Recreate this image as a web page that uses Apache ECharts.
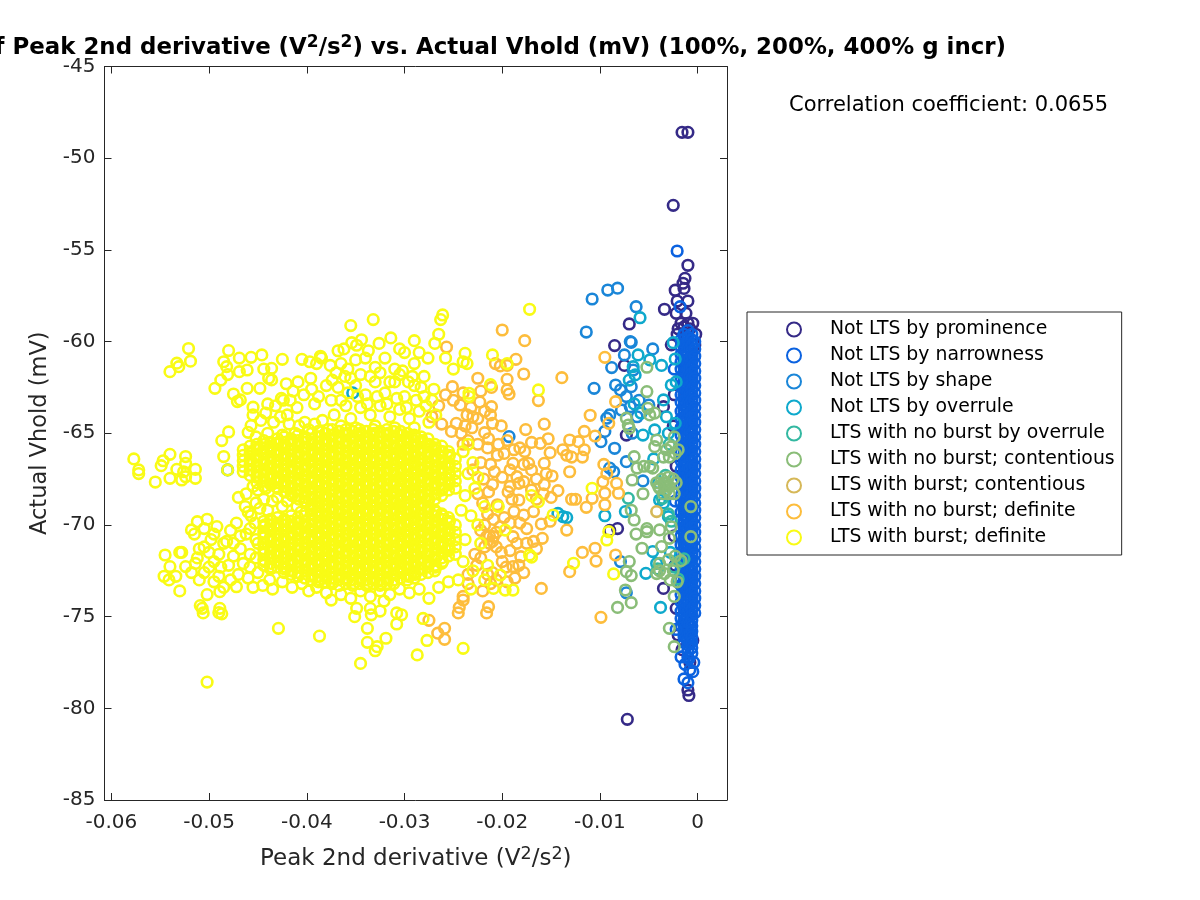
<!DOCTYPE html>
<html><head><meta charset="utf-8">
<style>html,body{margin:0;padding:0;background:#fff}#c{width:1200px;height:900px}</style>
<script src="https://cdn.jsdelivr.net/npm/echarts@6/dist/echarts.min.js"></script>
</head><body><div id="c"></div>
<script>
const chartTitle = 'of Peak 2nd derivative (V{sup|2}/s{sup|2}) vs. Actual Vhold (mV) (100%, 200%, 400% g incr)';
const correlationText = 'Correlation coefficient: 0.0655';
const xAxisTitle = 'Peak 2nd derivative (V{sup|2}/s{sup|2})';
const yAxisTitle = 'Actual Vhold (mV)';
const xTicks = [-0.06,-0.05,-0.04,-0.03,-0.02,-0.01,0];
const seriesNames = ['Not LTS by prominence','Not LTS by narrowness','Not LTS by shape','Not LTS by overrule','LTS with no burst by overrule','LTS with no burst; contentious','LTS with burst; contentious','LTS with no burst; definite','LTS with burst; definite'];
const seriesColors = ['#352a87','#0b62e0','#1a86d8','#0ea9cc','#33b8a1','#8abd78','#d6b858','#fdbd3c','#f9fb15'];

const prominence = [[-.0016,-48.59],[-.0010,-48.59],[-.0025,-52.57],[-.0010,-55.84],[-.0013,-56.55],[-.0015,-56.82],[-.0014,-57.1],[-.0023,-57.2],[-.0021,-57.79],[-.0010,-57.79],[-.0034,-58.24],[-.0070,-59.04],[-.0012,-58.46],[-.0022,-58.46],[-.0017,-59],[-.0010,-59],[-.0005,-59],[-.0020,-59.3],[-.0014,-59.2],[-.0008,-59.3],[-.0002,-59.6],[-.0021,-59.6],[-.0003,-60.2],[-.0027,-60.18],[-.0085,-60.22],[-.0075,-61.3],[-.0035,-63.55],[-.0073,-65.1],[-.0082,-70.2],[-.0090,-70.3],[-.0035,-73.46],[-.0020,-76],[-.0005,-76.3],[-.0022,-74.55],[-.0072,-80.6],[-.0010,-79],[-.0009,-79.3],[-.0016,-76.8],[-.0008,-77.5],[-.0012,-75.9],[-.0024,-62.9],[-.0025,-64.6],[-.0022,-66.8],[-.0024,-70.6],[-.0023,-72.2]];
const narrownessColumns = [
[-.0017,[-59.9,-60.3,-60.7,-61.1,-61.5,-62,-62.4,-62.9,-63.3,-63.8,-64.2,-64.7,-65.1,-65.6,-66,-66.5,-67,-67.4,-67.9,-68.4,-68.8,-69.3,-69.7,-70.2,-70.6,-71.1,-71.5,-72,-72.4,-72.9,-73.3,-73.8,-74.2,-74.7,-75.1,-75.5]],
[-.0014,[-59.6,-59.9,-60.2,-60.5,-60.8,-61.1,-61.4,-61.7,-62,-62.3,-62.6,-62.9,-63.2,-63.5,-63.8,-64.1,-64.4,-64.7,-65,-65.3,-65.6,-65.9,-66.2,-66.5,-66.8,-67.1,-67.4,-67.7,-68,-68.3,-68.6,-68.9,-69.2,-69.5,-69.8,-70.1,-70.4,-70.7,-71,-71.3,-71.6,-71.9,-72.2,-72.5,-72.8,-73.1,-73.4,-73.7,-74,-74.3,-74.6,-74.9,-75.2,-75.5,-75.8,-76.1,-76.4]],
[-.0012,[-60.1,-60.6,-61.1,-61.6,-62.1,-62.6,-63.1,-63.6,-64.1,-64.6,-65.1,-65.6,-66.1,-66.6,-67.1,-67.6,-68.1,-68.6,-69.1,-69.6,-70.1,-70.6,-71.1,-71.6,-72.1,-72.6,-73.1,-73.6,-74.1,-74.6,-75.1,-75.6,-76.1]],
[-.0010,[-59.4,-59.75,-60.05,-60.35,-60.65,-60.95,-61.25,-61.55,-61.85,-62.15,-62.45,-62.75,-63.05,-63.35,-63.65,-63.95,-64.25,-64.55,-64.85,-65.15,-65.45,-65.75,-66.05,-66.35,-66.65,-66.95,-67.25,-67.55,-67.85,-68.15,-68.45,-68.75,-69.05,-69.35,-69.65,-69.95,-70.25,-70.55,-70.85,-71.15,-71.45,-71.75,-72.05,-72.35,-72.65,-72.95,-73.25,-73.55,-73.85,-74.15,-74.45,-74.75,-75.05,-75.35,-75.65,-75.95,-76.25,-76.55,-76.85,-77.2]],
[-.0008,[-60.4,-60.9,-61.4,-61.9,-62.4,-62.9,-63.4,-63.9,-64.4,-64.9,-65.4,-65.9,-66.4,-66.9,-67.4,-67.9,-68.4,-68.9,-69.4,-69.9,-70.4,-70.9,-71.4,-71.9,-72.4,-72.9,-73.4,-73.9,-74.4,-74.9,-75.4,-75.9,-76.4]],
[-.0006,[-59.6,-59.9,-60.2,-60.5,-60.8,-61.1,-61.4,-61.7,-62,-62.3,-62.6,-62.9,-63.2,-63.5,-63.8,-64.1,-64.4,-64.7,-65,-65.3,-65.6,-65.9,-66.2,-66.5,-66.8,-67.1,-67.4,-67.7,-68,-68.3,-68.6,-68.9,-69.2,-69.5,-69.8,-70.1,-70.4,-70.7,-71,-71.3,-71.6,-71.9,-72.2,-72.5,-72.8,-73.1,-73.4,-73.7,-74,-74.3,-74.6,-74.9,-75.2,-75.5,-75.8,-76.1,-76.4,-76.7,-77]],
[-.0003,[-60,-60.4,-60.8,-61.2,-61.6,-62,-62.4,-62.8,-63.2,-63.6,-64,-64.4,-64.8,-65.2,-65.6,-66,-66.4,-66.8,-67.2,-67.6,-68,-68.4,-68.8,-69.2,-69.6,-70,-70.4,-70.8,-71.2,-71.6,-72,-72.4,-72.8,-73.2,-73.6,-74,-74.4,-74.8]]
];
const narrownessOutliers = [[-.0021,-55.06],[-.0018,-58.1],[-.0013,-77.6],[-.0008,-77.9],[-.0005,-78],[-.0014,-78.4],[-.0010,-78.6],[-.0004,-77.5],[-.0017,-77.2],[-.0009,-77.3],[-.0022,-75.7],[-.0024,-61.5],[-.0023,-68.7]];
const shape = [[-.0108,-57.68],[-.0092,-57.19],[-.0082,-57.09],[-.0063,-58.1],[-.0114,-59.48],[-.0068,-60.04],[-.0069,-60],[-.0046,-60.4],[-.0088,-61.42],[-.0106,-62.55],[-.0084,-62.37],[-.0075,-60.73],[-.0068,-62.46],[-.0079,-62.64],[-.0073,-63],[-.0069,-63.55],[-.0078,-63.73],[-.0085,-65.82],[-.0099,-65.46],[-.0095,-64.9],[-.0090,-64],[-.0093,-64.18],[-.0193,-65.18],[-.0073,-66.55],[-.0086,-67.1],[-.0090,-66.9],[-.0050,-63.46],[-.0066,-61.55],[-.0062,-64.1],[-.0060,-63.2],[-.0079,-72],[-.0073,-73.7],[-.0056,-67.6],[-.0067,-65]];
const overrule = [[-.0059,-58.7],[-.0025,-60.06],[-.0061,-60.73],[-.0049,-61],[-.0037,-61.3],[-.0066,-61.37],[-.0064,-61.82],[-.0027,-62.37],[-.0022,-62.2],[-.0035,-63.18],[-.0032,-64.1],[-.0023,-64.46],[-.0056,-65.1],[-.0044,-64.82],[-.0030,-65],[-.0023,-60.95],[-.0095,-69.5],[-.0134,-69.6],[-.0138,-69.55],[-.0143,-69.37],[-.0074,-69.27],[-.0038,-74.5],[-.0053,-72.64],[-.0046,-71.45],[-.0039,-68.64],[-.0035,-68.8],[-.0030,-69.55],[-.0481,-67],[-.0353,-62.8],[-.0065,-63.4],[-.0058,-63.9],[-.0040,-67.7],[-.0045,-66.4],[-.0042,-72.1],[-.0028,-71.5],[-.0070,-62.1]];
const noBurstOverrule = [[-.0071,-68.55],[-.0020,-72.95],[-.0019,-72],[-.0014,-71.85],[-.0024,-72.3],[-.0036,-68.55],[-.0030,-69.4],[-.0027,-69.8],[-.0033,-67.3],[-.0029,-65.6],[-.0041,-72.4]];
const contentious = [[-.0052,-61.4],[-.0052,-62.73],[-.0044,-63.9],[-.0051,-63.64],[-.0049,-64],[-.0073,-64.18],[-.0071,-64.55],[-.0070,-64.73],[-.0042,-65.37],[-.0044,-65.73],[-.0065,-66.28],[-.0062,-66.9],[-.0067,-67.55],[-.0055,-66.8],[-.0049,-66.8],[-.0046,-66.9],[-.0056,-68.3],[-.0032,-65.9],[-.0027,-65.73],[-.0023,-66.1],[-.0020,-65.9],[-.0029,-66.3],[-.0035,-66.3],[-.0039,-68],[-.0035,-67.7],[-.0032,-68.1],[-.0029,-67.9],[-.0035,-68.3],[-.0025,-67.5],[-.0042,-67.7],[-.0029,-68.3],[-.0037,-67.5],[-.0032,-67.7],[-.0022,-67.7],[-.0024,-68.3],[-.0034,-67.9],[-.0030,-67.4],[-.0040,-67.9],[-.0068,-69.2],[-.0065,-69.73],[-.0052,-70.2],[-.0052,-70.37],[-.0063,-70.5],[-.0057,-71.27],[-.0039,-70.27],[-.0037,-71.18],[-.0027,-70.1],[-.0029,-70.73],[-.0007,-69],[-.0007,-70.64],[-.0070,-72],[-.0073,-72.55],[-.0068,-72.76],[-.0074,-73.55],[-.0068,-74.24],[-.0082,-74.5],[-.0029,-75.64],[-.0024,-76.64],[-.0024,-73.9],[-.0039,-72.5],[-.0034,-72.65],[-.0030,-71.9],[-.0023,-71.7],[-.0025,-72.5],[-.0021,-73.1],[-.0028,-73],[-.0042,-72.65],[-.0039,-72.1],[-.0017,-71.95],[-.0024,-65.2]];
const burstContentious = [[-.0042,-69.27]];
const noBurstDefinite = [[-.0200,-59.37],[-.0177,-59.95],[-.0186,-60.97],[-.0195,-61.3],[-.0202,-61.33],[-.0207,-61.2],[-.0195,-62.06],[-.0193,-62.86],[-.0195,-62.64],[-.0178,-61.77],[-.0139,-61.97],[-.0163,-63.22],[-.0225,-62],[-.0211,-62.5],[-.0251,-62.46],[-.0257,-60.3],[-.0201,-64.6],[-.0176,-64.8],[-.0157,-64.5],[-.0110,-64.02],[-.0231,-64.7],[-.0218,-64.97],[-.0210,-64.46],[-.0212,-64],[-.0211,-63.55],[-.0223,-63.3],[-.0236,-64],[-.0243,-63.46],[-.0250,-63.2],[-.0247,-64.46],[-.0153,-65.3],[-.0161,-65.55],[-.0170,-65.5],[-.0182,-65.8],[-.0177,-66],[-.0151,-66.06],[-.0157,-66.64],[-.0173,-66.64],[-.0131,-65.37],[-.0122,-65.46],[-.0116,-64.9],[-.0105,-65.15],[-.0138,-65.9],[-.0134,-66.2],[-.0129,-66.3],[-.0118,-66.3],[-.0116,-65.9],[-.0131,-67.1],[-.0149,-67.33],[-.0157,-67.8],[-.0143,-68.13],[-.0150,-68.5],[-.0189,-66.64],[-.0192,-67],[-.0185,-67.37],[-.0178,-67.64],[-.0183,-67.73],[-.0183,-68.64],[-.0188,-69.27],[-.0178,-69.46],[-.0182,-69.9],[-.0189,-70.64],[-.0168,-69.27],[-.0129,-68.6],[-.0125,-68.6],[-.0108,-68.55],[-.0114,-69.04],[-.0095,-68.27],[-.0095,-68.9],[-.0097,-67.64],[-.0083,-67.73],[-.0081,-68.27],[-.0093,-67.2],[-.0096,-66.7],[-.0134,-70.28],[-.0159,-70.73],[-.0168,-70.9],[-.0160,-69.95],[-.0151,-69.8],[-.0181,-71.73],[-.0118,-71.5],[-.0105,-71.27],[-.0104,-71.97],[-.0084,-71.64],[-.0131,-72.55],[-.0189,-72.27],[-.0187,-72.9],[-.0160,-73.46],[-.0209,-70.64],[-.0213,-71],[-.0216,-70.64],[-.0206,-71.2],[-.0240,-73.9],[-.0244,-74.5],[-.0214,-74.46],[-.0216,-74.8],[-.0099,-75.04],[-.0259,-75.64],[-.0259,-76.24],[-.0266,-75.9],[-.0095,-60.86],[-.0084,-63.28],[-.0091,-64.46],[-.0213,-70.6],[-.0210,-70.9],[-.0218,-71.2],[-.0222,-70.3],[-.0215,-65.8],[-.0225,-65.6],[-.0230,-67],[-.0222,-66.6],[-.0205,-66.2],[-.0200,-67.4],[-.0210,-67.8],[-.0225,-68.3],[-.0205,-68.9],[-.0215,-69.4],[-.0198,-69.6],[-.0202,-70.1],[-.0192,-71.4],[-.0200,-72],[-.0210,-72.6],[-.0226,-72.2],[-.0235,-73.2],[-.0220,-73.6],[-.0212,-73.2],[-.0195,-73.1],[-.0240,-62.8],[-.0232,-63.6],[-.0258,-62.9],[-.0265,-63.5],[-.0272,-64.1],[-.0262,-64.5],[-.0252,-64.9],[-.0242,-65],[-.0235,-65.4],[-.0222,-62.7],[-.0230,-64.1],[-.0245,-74.8],[-.0235,-72.7],[-.0228,-71.6],[-.0240,-74.1],[-.0275,-75.2],[-.0195,-65.4],[-.0188,-65.9],[-.0170,-68.1],[-.0165,-68.6],[-.0158,-68.3],[-.0175,-70.2],[-.0192,-69.9],[-.0185,-71],
[-.0212,-66.7],[-.0208,-67.1],[-.0219,-67.5],[-.0214,-68.2],[-.0220,-68.8],[-.0209,-69.7],[-.0218,-70],[-.0206,-70.4],[-.0204,-65.6],[-.0198,-66.1],[-.0194,-68.2],[-.0190,-68.6],[-.0201,-71.5],[-.0222,-71.8],[-.0215,-72.7],[-.0206,-73],[-.0196,-72.3],[-.0183,-72.2],[-.0192,-67.9],[-.0178,-66.7],[-.0170,-67],[-.0165,-67.5],[-.0155,-67.2],[-.0175,-71],[-.0165,-71.3],[-.0178,-72.6],[-.0225,-64.2],[-.0218,-63.8],[-.0238,-64.6],[-.0214,-65.3],[-.0240,-65.6]];
const burstDefiniteOutliers = [[-.0577,-66.4],[-.0572,-67],[-.0572,-67.2],[-.0555,-67.66],[-.0549,-66.77],[-.0547,-66.5],[-.0540,-66.15],[-.0540,-67.46],[-.0533,-66.97],[-.0528,-67.55],[-.0526,-67.1],[-.0524,-66.27],[-.0524,-66.64],[-.0524,-67.37],[-.0514,-66.97],[-.0514,-67.46],[-.0540,-61.64],[-.0533,-61.18],[-.0531,-61.37],[-.0521,-60.38],[-.0519,-61.07],[-.0494,-62.55],[-.0488,-62.1],[-.0480,-60.49],[-.0485,-61.1],[-.0482,-61.37],[-.0481,-61.8],[-.0469,-60.9],[-.0469,-61.64],[-.0461,-61.55],[-.0457,-60.86],[-.0446,-60.73],[-.0444,-61.5],[-.0436,-61.46],[-.0439,-62],[-.0436,-62.09],[-.0425,-60.97],[-.0461,-62.55],[-.0448,-62.55],[-.0475,-62.86],[-.0471,-63.27],[-.0468,-63.18],[-.0455,-63.58],[-.0480,-64.93],[-.0487,-65.4],[-.0485,-66.27],[-.0481,-67],[-.0457,-64.58],[-.0460,-64.95],[-.0502,-69.69],[-.0512,-69.82],[-.0518,-70.27],[-.0492,-70.09],[-.0472,-69.9],[-.0457,-69.5],[-.0453,-69.9],[-.0545,-71.64],[-.0530,-71.5],[-.0528,-71.5],[-.0540,-72.27],[-.0546,-72.8],[-.0541,-73],[-.0534,-72.8],[-.0524,-72.27],[-.0530,-73.6],[-.0514,-72.1],[-.0509,-74.4],[-.0506,-74.8],[-.0502,-73.8],[-.0507,-74.55],[-.0489,-74.55],[-.0487,-74.85],[-.0490,-74.78],[-.0489,-73.64],[-.0472,-73.37],[-.0502,-78.57],[-.0429,-75.64],[-.0387,-76.06],[-.0338,-75.64],[-.0338,-76.4],[-.0319,-76.18],[-.0328,-76.64],[-.0330,-76.86],[-.0345,-77.55],[-.0287,-77.09],[-.0277,-76.3],[-.0308,-75.4],[-.0308,-74.8],[-.0303,-74.9],[-.0281,-75.1],[-.0351,-75],[-.0349,-74.55],[-.0335,-74.55],[-.0334,-74.9],[-.0325,-74.7],[-.0321,-74.15],[-.0355,-59.13],[-.0332,-58.8],[-.0314,-59.8],[-.0290,-59.95],[-.0354,-60.06],[-.0344,-59.9],[-.0368,-60.5],[-.0386,-60.8],[-.0405,-60.97],[-.0397,-61.1],[-.0390,-61.2],[-.0421,-62.3],[-.0409,-62.2],[-.0396,-62],[-.0426,-63.1],[-.0417,-63.2],[-.0427,-64.1],
[-.0172,-58.24],[-.0163,-62.64],[-.0086,-72.67],[-.0127,-72.09],[-.0108,-68],[-.0093,-70.82],[-.0091,-70.37],[-.0163,-68.73],[-.0148,-69.46],[-.0172,-71.64],[-.0170,-71.75],[-.0189,-73.55],[-.0197,-73.55],[-.0209,-73.46],[-.0202,-72.73],[-.0204,-69],[-.0170,-68.4],[-.0197,-70.28],[-.0238,-60.64],[-.0236,-61.2],[-.0234,-62.82],[-.0210,-60.73],[-.0195,-61.2],[-.0261,-58.55],[-.0263,-58.8],[-.0265,-59.6],[-.0240,-76.73],[-.0269,-60.1],[-.0276,-60.9],[-.0258,-60.9],[-.0250,-61.5],[-.0240,-61.1],[-.0212,-62.35],[-.0234,-63],[-.0218,-73],[-.0232,-73.5],[-.0215,-72.2],
[-.0442,-63.9],[-.0434,-64.4],[-.0420,-64],[-.0410,-63.6],[-.0402,-64.4],[-.0392,-63.4],[-.0384,-64.3],[-.0375,-63.2],[-.0380,-62.4],[-.0368,-62.5],[-.0370,-61.7],[-.0358,-61.5],[-.0350,-61],[-.0345,-61.8],[-.0340,-60.9],[-.0330,-61.4],[-.0320,-60.9],[-.0310,-61.5],[-.0300,-60.6],[-.0290,-61.2],[-.0280,-61.9],[-.0270,-62.6],[-.0360,-63.5],[-.0350,-62.4],[-.0340,-62.9],[-.0330,-62.2],[-.0320,-62.8],[-.0310,-62.2],[-.0300,-63],[-.0290,-62.4],[-.0280,-63],[-.0355,-64.2],[-.0345,-63.6],[-.0335,-64],[-.0325,-63.5],[-.0315,-64.1],[-.0305,-63.7],[-.0295,-64.2],[-.0285,-63.8],[-.0275,-64.4],[-.0412,-65],[-.0398,-64.8],[-.0425,-65.1],[-.0440,-65],[-.0452,-65.2],[-.0378,-64.8],[-.0365,-64.6],[-.0350,-64.7],[-.0330,-64.6],[-.0310,-64.7],[-.0290,-64.7],[-.0385,-60.9],[-.0376,-61.3],[-.0362,-60.4],[-.0349,-60.2],[-.0337,-60.5],[-.0326,-60.1],[-.0305,-60.4],[-.0285,-60.6],[-.0365,-61.2],[-.0355,-62],[-.0305,-61.8],[-.0296,-62.2],
[-.0450,-68.1],[-.0444,-68.6],[-.0440,-69.2],[-.0448,-69.1],[-.0430,-68.5],[-.0425,-69],[-.0410,-69],[-.0395,-69.2],[-.0455,-67.9],[-.0462,-70.5],[-.0450,-71],[-.0458,-71.6],[-.0465,-72.1],[-.0475,-71],[-.0482,-70.9],[-.0490,-71.6],[-.0498,-70.8],[-.0505,-71.2],[-.0512,-71.8],[-.0500,-72.3],[-.0490,-72.8],[-.0480,-72.2],[-.0470,-72.7],[-.0460,-72.9],[-.0450,-72.6],[-.0510,-73],[-.0518,-72.6],[-.0455,-73.4],[-.0445,-73.3],[-.0438,-73],[-.0435,-73.5],[-.0425,-73.1],[-.0415,-73.4],[-.0405,-73.2],[-.0398,-73.6],[-.0390,-73.4],[-.0380,-73.7],[-.0375,-74.1],[-.0365,-73.8],[-.0355,-74],[-.0345,-73.6],[-.0335,-73.9],[-.0325,-73.6],[-.0315,-73.8],[-.0305,-73.5],[-.0295,-73.7],[-.0285,-73.5],[-.0275,-74],[-.0265,-73.4],[-.0255,-73.1],[-.0245,-73]];
const burstDefiniteExtra = [[-.0240,-66],[-.0235,-67.2],[-.0230,-66.6],[-.0238,-68.4],[-.0228,-68],[-.0232,-69.5],[-.0225,-70],[-.0238,-70.8],[-.0222,-71],[-.0240,-72],[-.0230,-72.5],[-.0218,-69],[-.0242,-69.2],[-.0235,-65.6],[-.0225,-67.4],[-.0515,-70.5],[-.0505,-70.2],[-.0495,-70.5],[-.0485,-71],[-.0478,-70.3],[-.0468,-70.6],[-.0458,-70.2],[-.0452,-70.8],[-.0510,-71.3],[-.0500,-71.5],[-.0495,-72],[-.0488,-72.3],[-.0475,-71.7],[-.0468,-71.3],[-.0458,-72.3],[-.0452,-71.8],[-.0505,-72.6],[-.0495,-73.1],[-.0478,-73],[-.0485,-73.4],[-.0455,-64],[-.0447,-64.3],[-.0440,-63.4],[-.0432,-63.5],[-.0424,-63.2],[-.0418,-64.5],[-.0408,-64.6],[-.0414,-62.7],[-.0403,-62.9],[-.0395,-62.6],[-.0388,-63],[-.0392,-64.5],[-.0372,-64],[-.0365,-63.2],[-.0358,-62.8],[-.0374,-62.1],[-.0361,-61.9],[-.0348,-63],[-.0338,-63.4],[-.0328,-63],[-.0318,-63.4],[-.0308,-63.1],[-.0298,-63.6],[-.0288,-63.2],[-.0278,-63.5],[-.0268,-64],[-.0335,-61.9],[-.0325,-61.7],[-.0315,-62.2],[-.0302,-61.6],[-.0292,-61.9],[-.0283,-62.5],[-.0272,-63.2],[-.0442,-68],[-.0435,-68.7],[-.0420,-68.7],[-.0406,-69.3],[-.0462,-68.3],[-.0452,-68.8],[-.0470,-68.5],[-.0463,-69],[-.0460,-69.3]];
const burstDefiniteDense = [
[-.0465,[-65.9,-66.2,-66.5,-66.8,-67.1]],
[-.0458,[-65.7,-66.1,-66.4,-66.7,-67,-67.3]],
[-.0451,[-65.6,-65.9,-66.2,-66.5,-66.8,-67.1,-67.4,-67.7]],
[-.0444,[-65.4,-65.8,-66.1,-66.4,-66.7,-67,-67.3,-67.6,-67.9,-69.8,-70.1,-70.4,-70.7,-71,-71.3,-71.6,-71.9,-72.2]],
[-.0437,[-65.5,-65.7,-66,-66.3,-66.6,-66.9,-67.2,-67.5,-67.8,-69.7,-70,-70.3,-70.6,-70.9,-71.2,-71.5,-71.8,-72.1,-72.4]],
[-.0430,[-65.3,-65.6,-65.9,-66.2,-66.5,-66.8,-67.1,-67.4,-67.7,-68,-69.6,-69.9,-70.2,-70.5,-70.8,-71.1,-71.4,-71.7,-72,-72.3]],
[-.0423,[-65.2,-65.5,-65.8,-66.1,-66.4,-66.7,-67,-67.3,-67.6,-67.9,-68.2,-69.7,-70,-70.3,-70.6,-70.9,-71.2,-71.5,-71.8,-72.1,-72.4,-72.6]],
[-.0416,[-65.3,-65.6,-65.9,-66.2,-66.5,-66.8,-67.1,-67.4,-67.7,-68,-68.3,-69.5,-69.8,-70.1,-70.4,-70.7,-71,-71.3,-71.6,-71.9,-72.2,-72.5,-72.7]],
[-.0409,[-65.1,-65.4,-65.7,-66,-66.3,-66.6,-66.9,-67.2,-67.5,-67.8,-68.1,-68.4,-69.6,-69.9,-70.2,-70.5,-70.8,-71.1,-71.4,-71.7,-72,-72.3,-72.6,-72.8]],
[-.0402,[-65.2,-65.5,-65.8,-66.1,-66.4,-66.7,-67,-67.3,-67.6,-67.9,-68.2,-68.5,-68.7,-69.5,-69.8,-70.1,-70.4,-70.7,-71,-71.3,-71.6,-71.9,-72.2,-72.5,-72.9]],
[-.0395,[-65,-65.3,-65.6,-65.9,-66.2,-66.5,-66.8,-67.1,-67.4,-67.7,-68,-68.3,-68.6,-68.9,-69.4,-69.7,-70,-70.3,-70.6,-70.9,-71.2,-71.5,-71.8,-72.1,-72.4,-72.7,-73]],
[-.0388,[-64.9,-65.2,-65.5,-65.8,-66.1,-66.4,-66.7,-67,-67.3,-67.6,-67.9,-68.2,-68.5,-68.8,-69,-69.5,-69.8,-70.1,-70.4,-70.7,-71,-71.3,-71.6,-71.9,-72.2,-72.5,-72.8,-73.1]],
[-.0381,[-65,-65.3,-65.6,-65.9,-66.2,-66.5,-66.8,-67.1,-67.4,-67.7,-68,-68.3,-68.6,-68.9,-69.2,-69.5,-69.8,-70.1,-70.4,-70.7,-71,-71.3,-71.6,-71.9,-72.2,-72.5,-72.8,-73.1]],
[-.0374,[-64.8,-65.1,-65.4,-65.7,-66,-66.3,-66.6,-66.9,-67.2,-67.5,-67.8,-68.1,-68.4,-68.7,-69,-69.3,-69.6,-69.9,-70.2,-70.5,-70.8,-71.1,-71.4,-71.7,-72,-72.3,-72.6,-72.9,-73.2]],
[-.0367,[-64.9,-65.2,-65.5,-65.8,-66.1,-66.4,-66.7,-67,-67.3,-67.6,-67.9,-68.2,-68.5,-68.8,-69.1,-69.4,-69.7,-70,-70.3,-70.6,-70.9,-71.2,-71.5,-71.8,-72.1,-72.4,-72.7,-73,-73.3]],
[-.0360,[-64.8,-65.1,-65.4,-65.7,-66,-66.3,-66.6,-66.9,-67.2,-67.5,-67.8,-68.1,-68.4,-68.7,-69,-69.3,-69.6,-69.9,-70.2,-70.5,-70.8,-71.1,-71.4,-71.7,-72,-72.3,-72.6,-72.9,-73.2]],
[-.0353,[-64.9,-65.2,-65.5,-65.8,-66.1,-66.4,-66.7,-67,-67.3,-67.6,-67.9,-68.2,-68.5,-68.8,-69.1,-69.4,-69.7,-70,-70.3,-70.6,-70.9,-71.2,-71.5,-71.8,-72.1,-72.4,-72.7,-73,-73.3]],
[-.0346,[-64.8,-65.1,-65.4,-65.7,-66,-66.3,-66.6,-66.9,-67.2,-67.5,-67.8,-68.1,-68.4,-68.7,-69,-69.3,-69.6,-69.9,-70.2,-70.5,-70.8,-71.1,-71.4,-71.7,-72,-72.3,-72.6,-72.9,-73.2]],
[-.0339,[-64.9,-65.2,-65.5,-65.8,-66.1,-66.4,-66.7,-67,-67.3,-67.6,-67.9,-68.2,-68.5,-68.8,-69.1,-69.4,-69.7,-70,-70.3,-70.6,-70.9,-71.2,-71.5,-71.8,-72.1,-72.4,-72.7,-73,-73.3]],
[-.0332,[-64.8,-65.1,-65.4,-65.7,-66,-66.3,-66.6,-66.9,-67.2,-67.5,-67.8,-68.1,-68.4,-68.7,-69,-69.3,-69.6,-69.9,-70.2,-70.5,-70.8,-71.1,-71.4,-71.7,-72,-72.3,-72.6,-72.9,-73.2]],
[-.0325,[-64.9,-65.2,-65.5,-65.8,-66.1,-66.4,-66.7,-67,-67.3,-67.6,-67.9,-68.2,-68.5,-68.8,-69.1,-69.4,-69.7,-70,-70.3,-70.6,-70.9,-71.2,-71.5,-71.8,-72.1,-72.4,-72.7,-73,-73.3]],
[-.0318,[-64.8,-65.1,-65.4,-65.7,-66,-66.3,-66.6,-66.9,-67.2,-67.5,-67.8,-68.1,-68.4,-68.7,-69,-69.3,-69.6,-69.9,-70.2,-70.5,-70.8,-71.1,-71.4,-71.7,-72,-72.3,-72.6,-72.9,-73.2]],
[-.0311,[-64.9,-65.2,-65.5,-65.8,-66.1,-66.4,-66.7,-67,-67.3,-67.6,-67.9,-68.2,-68.5,-68.8,-69.1,-69.4,-69.7,-70,-70.3,-70.6,-70.9,-71.2,-71.5,-71.8,-72.1,-72.4,-72.7,-73,-73.2]],
[-.0304,[-64.9,-65.1,-65.4,-65.7,-66,-66.3,-66.6,-66.9,-67.2,-67.5,-67.8,-68.1,-68.4,-68.7,-69,-69.3,-69.6,-69.9,-70.2,-70.5,-70.8,-71.1,-71.4,-71.7,-72,-72.3,-72.6,-72.9]],
[-.0297,[-65,-65.2,-65.5,-65.8,-66.1,-66.4,-66.7,-67,-67.3,-67.6,-67.9,-68.2,-68.5,-68.8,-69.1,-69.4,-69.7,-70,-70.3,-70.6,-70.9,-71.2,-71.5,-71.8,-72.1,-72.4,-72.7,-73]],
[-.0290,[-65.1,-65.4,-65.7,-66,-66.3,-66.6,-66.9,-67.2,-67.5,-67.8,-68.1,-68.4,-68.7,-69,-69.3,-69.6,-69.9,-70.2,-70.5,-70.8,-71.1,-71.4,-71.7,-72,-72.3,-72.6,-72.9]],
[-.0283,[-65.2,-65.5,-65.8,-66.1,-66.4,-66.7,-67,-67.3,-67.6,-67.9,-68.2,-68.5,-68.8,-69.1,-69.4,-69.7,-70,-70.3,-70.6,-70.9,-71.2,-71.5,-71.8,-72.1,-72.4,-72.7]],
[-.0276,[-65.3,-65.7,-66,-66.3,-66.6,-66.9,-67.2,-67.5,-67.8,-68.1,-68.4,-68.7,-69,-69.3,-69.6,-69.9,-70.2,-70.5,-70.8,-71.1,-71.4,-71.7,-72,-72.3,-72.6]],
[-.0269,[-65.6,-65.9,-66.2,-66.5,-66.8,-67.1,-67.4,-67.7,-68,-68.3,-68.6,-69.2,-69.5,-69.8,-70.1,-70.4,-70.7,-71,-71.3,-71.6,-71.9,-72.2,-72.5]],
[-.0262,[-65.7,-66,-66.3,-66.6,-66.9,-67.2,-67.5,-67.8,-68.1,-68.4,-69.4,-69.7,-70,-70.3,-70.6,-70.9,-71.2,-71.5,-71.8,-72.1]],
[-.0255,[-66,-66.3,-66.6,-66.9,-67.2,-67.5,-67.8,-68.1,-69.6,-69.9,-70.2,-70.5,-70.8,-71.1,-71.4,-71.7]],
[-.0248,[-66.4,-66.8,-67.2,-67.6,-68,-70,-70.4,-70.8,-71.2,-71.6]]
];
const burstDefiniteFill = [
[-.0457,[-66,-66.5,-67]],
[-.0450,[-65.8,-66.3,-66.8,-67.3]],
[-.0443,[-65.6,-66.1,-66.6,-67.1,-67.6,-70,-70.5,-71,-71.5,-72]],
[-.0436,[-65.8,-66.3,-66.8,-67.3,-67.8,-69.8,-70.3,-70.8,-71.3,-71.8,-72.3]],
[-.0429,[-65.5,-66,-66.5,-67,-67.5,-68,-70,-70.5,-71,-71.5,-72]],
[-.0422,[-65.7,-66.2,-66.7,-67.2,-67.7,-68.2,-69.8,-70.3,-70.8,-71.3,-71.8,-72.3]],
[-.0415,[-65.4,-65.9,-66.4,-66.9,-67.4,-67.9,-68.4,-70,-70.5,-71,-71.5,-72,-72.5]],
[-.0408,[-65.6,-66.1,-66.6,-67.1,-67.6,-68.1,-68.6,-69.8,-70.3,-70.8,-71.3,-71.8,-72.3]],
[-.0401,[-65.3,-65.8,-66.3,-66.8,-67.3,-67.8,-68.3,-68.8,-70,-70.5,-71,-71.5,-72,-72.5]],
[-.0394,[-65.5,-66,-66.5,-67,-67.5,-68,-68.5,-69,-69.8,-70.3,-70.8,-71.3,-71.8,-72.3,-72.8]],
[-.0387,[-65.2,-65.7,-66.2,-66.7,-67.2,-67.7,-68.2,-68.7,-69.3,-70,-70.5,-71,-71.5,-72,-72.5,-73]],
[-.0380,[-65.4,-65.9,-66.4,-66.9,-67.4,-67.9,-68.4,-68.9,-69.4,-69.9,-70.4,-70.9,-71.4,-71.9,-72.4,-72.9]],
[-.0373,[-65.1,-65.6,-66.1,-66.6,-67.1,-67.6,-68.1,-68.6,-69.1,-69.6,-70.1,-70.6,-71.1,-71.6,-72.1,-72.6,-73.1]],
[-.0366,[-65.3,-65.8,-66.3,-66.8,-67.3,-67.8,-68.3,-68.8,-69.3,-69.8,-70.3,-70.8,-71.3,-71.8,-72.3,-72.8]],
[-.0359,[-65,-65.5,-66,-66.5,-67,-67.5,-68,-68.5,-69,-69.5,-70,-70.5,-71,-71.5,-72,-72.5,-73]],
[-.0352,[-65.2,-65.7,-66.2,-66.7,-67.2,-67.7,-68.2,-68.7,-69.2,-69.7,-70.2,-70.7,-71.2,-71.7,-72.2,-72.7,-73.2]],
[-.0345,[-65,-65.5,-66,-66.5,-67,-67.5,-68,-68.5,-69,-69.5,-70,-70.5,-71,-71.5,-72,-72.5,-73]],
[-.0338,[-65.2,-65.7,-66.2,-66.7,-67.2,-67.7,-68.2,-68.7,-69.2,-69.7,-70.2,-70.7,-71.2,-71.7,-72.2,-72.7,-73.2]],
[-.0331,[-65,-65.5,-66,-66.5,-67,-67.5,-68,-68.5,-69,-69.5,-70,-70.5,-71,-71.5,-72,-72.5,-73]],
[-.0324,[-65.2,-65.7,-66.2,-66.7,-67.2,-67.7,-68.2,-68.7,-69.2,-69.7,-70.2,-70.7,-71.2,-71.7,-72.2,-72.7,-73.2]],
[-.0317,[-65,-65.5,-66,-66.5,-67,-67.5,-68,-68.5,-69,-69.5,-70,-70.5,-71,-71.5,-72,-72.5,-73]],
[-.0310,[-65.2,-65.7,-66.2,-66.7,-67.2,-67.7,-68.2,-68.7,-69.2,-69.7,-70.2,-70.7,-71.2,-71.7,-72.2,-72.7]],
[-.0303,[-65.1,-65.6,-66.1,-66.6,-67.1,-67.6,-68.1,-68.6,-69.1,-69.6,-70.1,-70.6,-71.1,-71.6,-72.1,-72.6]],
[-.0296,[-65.3,-65.8,-66.3,-66.8,-67.3,-67.8,-68.3,-68.8,-69.3,-69.8,-70.3,-70.8,-71.3,-71.8,-72.3,-72.8]],
[-.0289,[-65.2,-65.7,-66.2,-66.7,-67.2,-67.7,-68.2,-68.7,-69.2,-69.7,-70.2,-70.7,-71.2,-71.7,-72.2,-72.7]],
[-.0282,[-65.4,-65.9,-66.4,-66.9,-67.4,-67.9,-68.4,-68.9,-69.4,-69.9,-70.4,-70.9,-71.4,-71.9,-72.4]],
[-.0275,[-65.6,-66.1,-66.6,-67.1,-67.6,-68.1,-68.6,-69.1,-69.6,-70.1,-70.6,-71.1,-71.6,-72.1]],
[-.0268,[-65.8,-66.3,-66.8,-67.3,-67.8,-68.3,-69.3,-69.8,-70.3,-70.8,-71.3,-71.8,-72.3]],
[-.0261,[-66,-66.5,-67,-67.5,-68,-69.5,-70,-70.5,-71,-71.5,-72]],
[-.0254,[-66.2,-66.7,-67.2,-67.7,-69.8,-70.3,-70.8,-71.3]]
];

function unfoldColumns(columns){
  const points = [];
  columns.forEach(function(col){ col[1].forEach(function(y){ points.push([col[0], y]); }); });
  return points;
}
const seriesData = [
  prominence,
  unfoldColumns(narrownessColumns).concat(narrownessOutliers),
  shape, overrule, noBurstOverrule, contentious, burstContentious, noBurstDefinite,
  burstDefiniteOutliers.concat(burstDefiniteExtra, unfoldColumns(burstDefiniteDense), unfoldColumns(burstDefiniteFill))
];

const textColor = '#262626';
const fontFamily = '"DejaVu Sans"';
const supStyle = {sup:{fontSize:17.5, verticalAlign:'top', lineHeight:28, fontFamily:fontFamily, color:textColor}};
const boldSupStyle = {sup:{fontSize:17, fontWeight:'bold', verticalAlign:'top', lineHeight:28, fontFamily:fontFamily, color:'#000'}};
const axisLine = {show:true, onZero:false, lineStyle:{color:textColor, width:1}};
function axisTick(extra){ return Object.assign({show:true, inside:true, length:7, lineStyle:{color:textColor, width:1}}, extra||{}); }

const chart = echarts.init(document.getElementById('c'), null, {renderer:'canvas'});
chart.setOption({
  animation:false,
  backgroundColor:'#fff',
  title:[
    {text:chartTitle, right:189, top:29, textStyle:{fontFamily:fontFamily, fontSize:22.9, fontWeight:'bold', color:'#000', lineHeight:28, rich:boldSupStyle}},
    {text:correlationText, left:784, top:90, textStyle:{fontFamily:fontFamily, fontSize:21, fontWeight:'normal', color:'#000'}}
  ],
  grid:{left:104.5, top:66.5, width:622.5, height:733.5, show:false, containLabel:false},
  legend:{
    show:true, data:seriesNames, orient:'vertical', left:747, top:312, icon:'circle',
    itemWidth:62, itemHeight:14, itemGap:7, padding:[8,7,8,39], selectedMode:false,
    borderColor:textColor, borderWidth:1, backgroundColor:'#fff',
    textStyle:{fontFamily:fontFamily, fontSize:18.85, lineHeight:19, color:'#000'}
  },
  xAxis:[
    {type:'value', min:-0.0607, max:0.003, position:'bottom', splitLine:{show:false}, axisLine:axisLine,
     axisTick:axisTick({customValues:xTicks}),
     axisLabel:{customValues:xTicks, margin:13, color:textColor, fontFamily:fontFamily, fontSize:20, formatter:function(v){return String(Math.round(v*100)/100);}},
     name:xAxisTitle, nameLocation:'middle', nameGap:45, nameTextStyle:{fontFamily:fontFamily, fontSize:23, color:textColor, lineHeight:28, rich:supStyle}},
    {type:'value', min:-0.0607, max:0.003, position:'top', splitLine:{show:false}, axisLine:axisLine,
     axisTick:axisTick({customValues:xTicks}), axisLabel:{show:false}}
  ],
  yAxis:[
    {type:'value', min:-85, max:-45, interval:5, position:'left', splitLine:{show:false}, axisLine:axisLine, axisTick:axisTick(),
     axisLabel:{margin:9, color:textColor, fontFamily:fontFamily, fontSize:20, padding:[3,0,0,0]},
     name:yAxisTitle, nameLocation:'middle', nameGap:52, nameTextStyle:{fontFamily:fontFamily, fontSize:22.5, color:textColor}},
    {type:'value', min:-85, max:-45, interval:5, position:'right', splitLine:{show:false}, axisLine:axisLine, axisTick:axisTick(), axisLabel:{show:false}}
  ],
  series:seriesNames.map(function(name,i){
    return {name:name, type:'scatter', xAxisIndex:0, yAxisIndex:0, symbol:'circle', symbolSize:10.6,
      data:seriesData[i], silent:true, progressive:0, large:false,
      itemStyle:{color:'rgba(0,0,0,0)', borderColor:seriesColors[i], borderWidth:2.6, opacity:1},
      emphasis:{disabled:true}};
  })
});
</script></body></html>
